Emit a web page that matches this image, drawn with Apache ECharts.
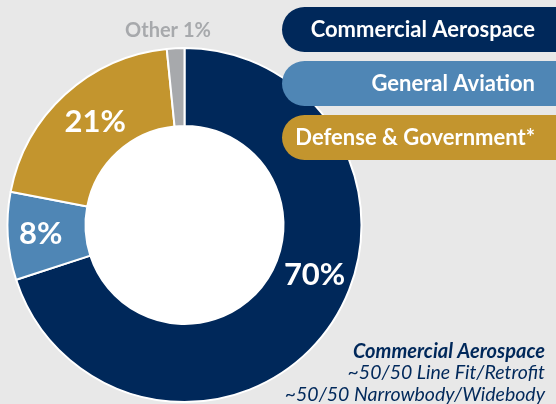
<!DOCTYPE html>
<html>
<head>
<meta charset="utf-8">
<script src="https://cdn.jsdelivr.net/npm/echarts@6/dist/echarts.min.js"></script>
<style>
html,body{margin:0;padding:0;background:#e8e8e8;}
#c{width:556px;height:404px;}
</style>
</head>
<body>
<div id="c"></div>
<script>
// Data
var categories = ['Commercial Aerospace', 'General Aviation', 'Defense & Government*', 'Other'];
var values = [70, 8, 20.4, 1.6];
var labels = ['70%', '8%', '21%', 'Other 1%'];
var colors = ['#00285a', '#4f86b5', '#c3952e', '#a7a9ac'];
var legendItems = ['Commercial Aerospace', 'General Aviation', 'Defense & Government*'];
var noteTitle = 'Commercial Aerospace';
var noteLines = ['~50/50 Line Fit/Retrofit', '~50/50 Narrowbody/Widebody'];

var FONT = 'Lato, "Open Sans", sans-serif';
var chart = echarts.init(document.getElementById('c'));

var graphics = [];
legendItems.forEach(function (name, i) {
  var top = 7 + i * 54;
  graphics.push({
    type: 'rect', z: 100,
    shape: { x: 282, y: top, width: 300, height: 45, r: [22.5, 0, 0, 22.5] },
    style: { fill: colors[i] }
  });
  graphics.push({
    type: 'text', z: 101,
    style: {
      x: 535, y: top + 23, text: name, fill: '#ffffff',
      font: 'bold 22px ' + FONT, textAlign: 'right', textVerticalAlign: 'middle'
    }
  });
});
graphics.push({
  type: 'text', z: 101,
  style: { x: 545, y: 352, text: noteTitle, fill: '#00285a',
    font: 'italic bold 20px ' + FONT, textAlign: 'right', textVerticalAlign: 'middle' }
});
noteLines.forEach(function (t, i) {
  graphics.push({
    type: 'text', z: 101,
    style: { x: 545, y: 373 + i * 21.5, text: t, fill: '#00285a',
      font: 'italic 19.5px ' + FONT, textAlign: 'right', textVerticalAlign: 'middle' }
  });
});

chart.setOption({
  backgroundColor: '#e8e8e8',
  animation: false,
  graphic: graphics,
  series: [
    {
      type: 'pie',
      center: [184.5, 225],
      radius: [99, 177],
      startAngle: 90,
      clockwise: true,
      avoidLabelOverlap: false,
      itemStyle: { borderColor: '#ffffff', borderWidth: 2 },
      label: {
        show: true, position: 'inside', color: '#ffffff',
        fontFamily: FONT, fontWeight: 'bold', fontSize: 31,
        formatter: function (p) { return labels[p.dataIndex]; }
      },
      labelLine: { show: false },
      labelLayout: function (p) {
        if (p.dataIndex === 0) return { dx: 16, dy: -33 };
        if (p.dataIndex === 1) return { dx: -3, dy: 0 };
        if (p.dataIndex === 2) return { dx: 6, dy: 1 };
        if (p.dataIndex === 3) return { x: 168, y: 31, align: 'center', verticalAlign: 'middle' };
        return {};
      },
      data: categories.map(function (c, i) {
        var d = { name: c, value: values[i], itemStyle: { color: colors[i] } };
        if (i === 3) d.label = { color: '#a7a9ac', fontSize: 20 };
        return d;
      })
    },
    {
      type: 'pie',
      center: [184.5, 225],
      radius: [0, 99],
      silent: true,
      label: { show: false },
      labelLine: { show: false },
      itemStyle: { color: '#ffffff' },
      data: [{ value: 1, name: '' }]
    }
  ]
});
</script>
</body>
</html>
